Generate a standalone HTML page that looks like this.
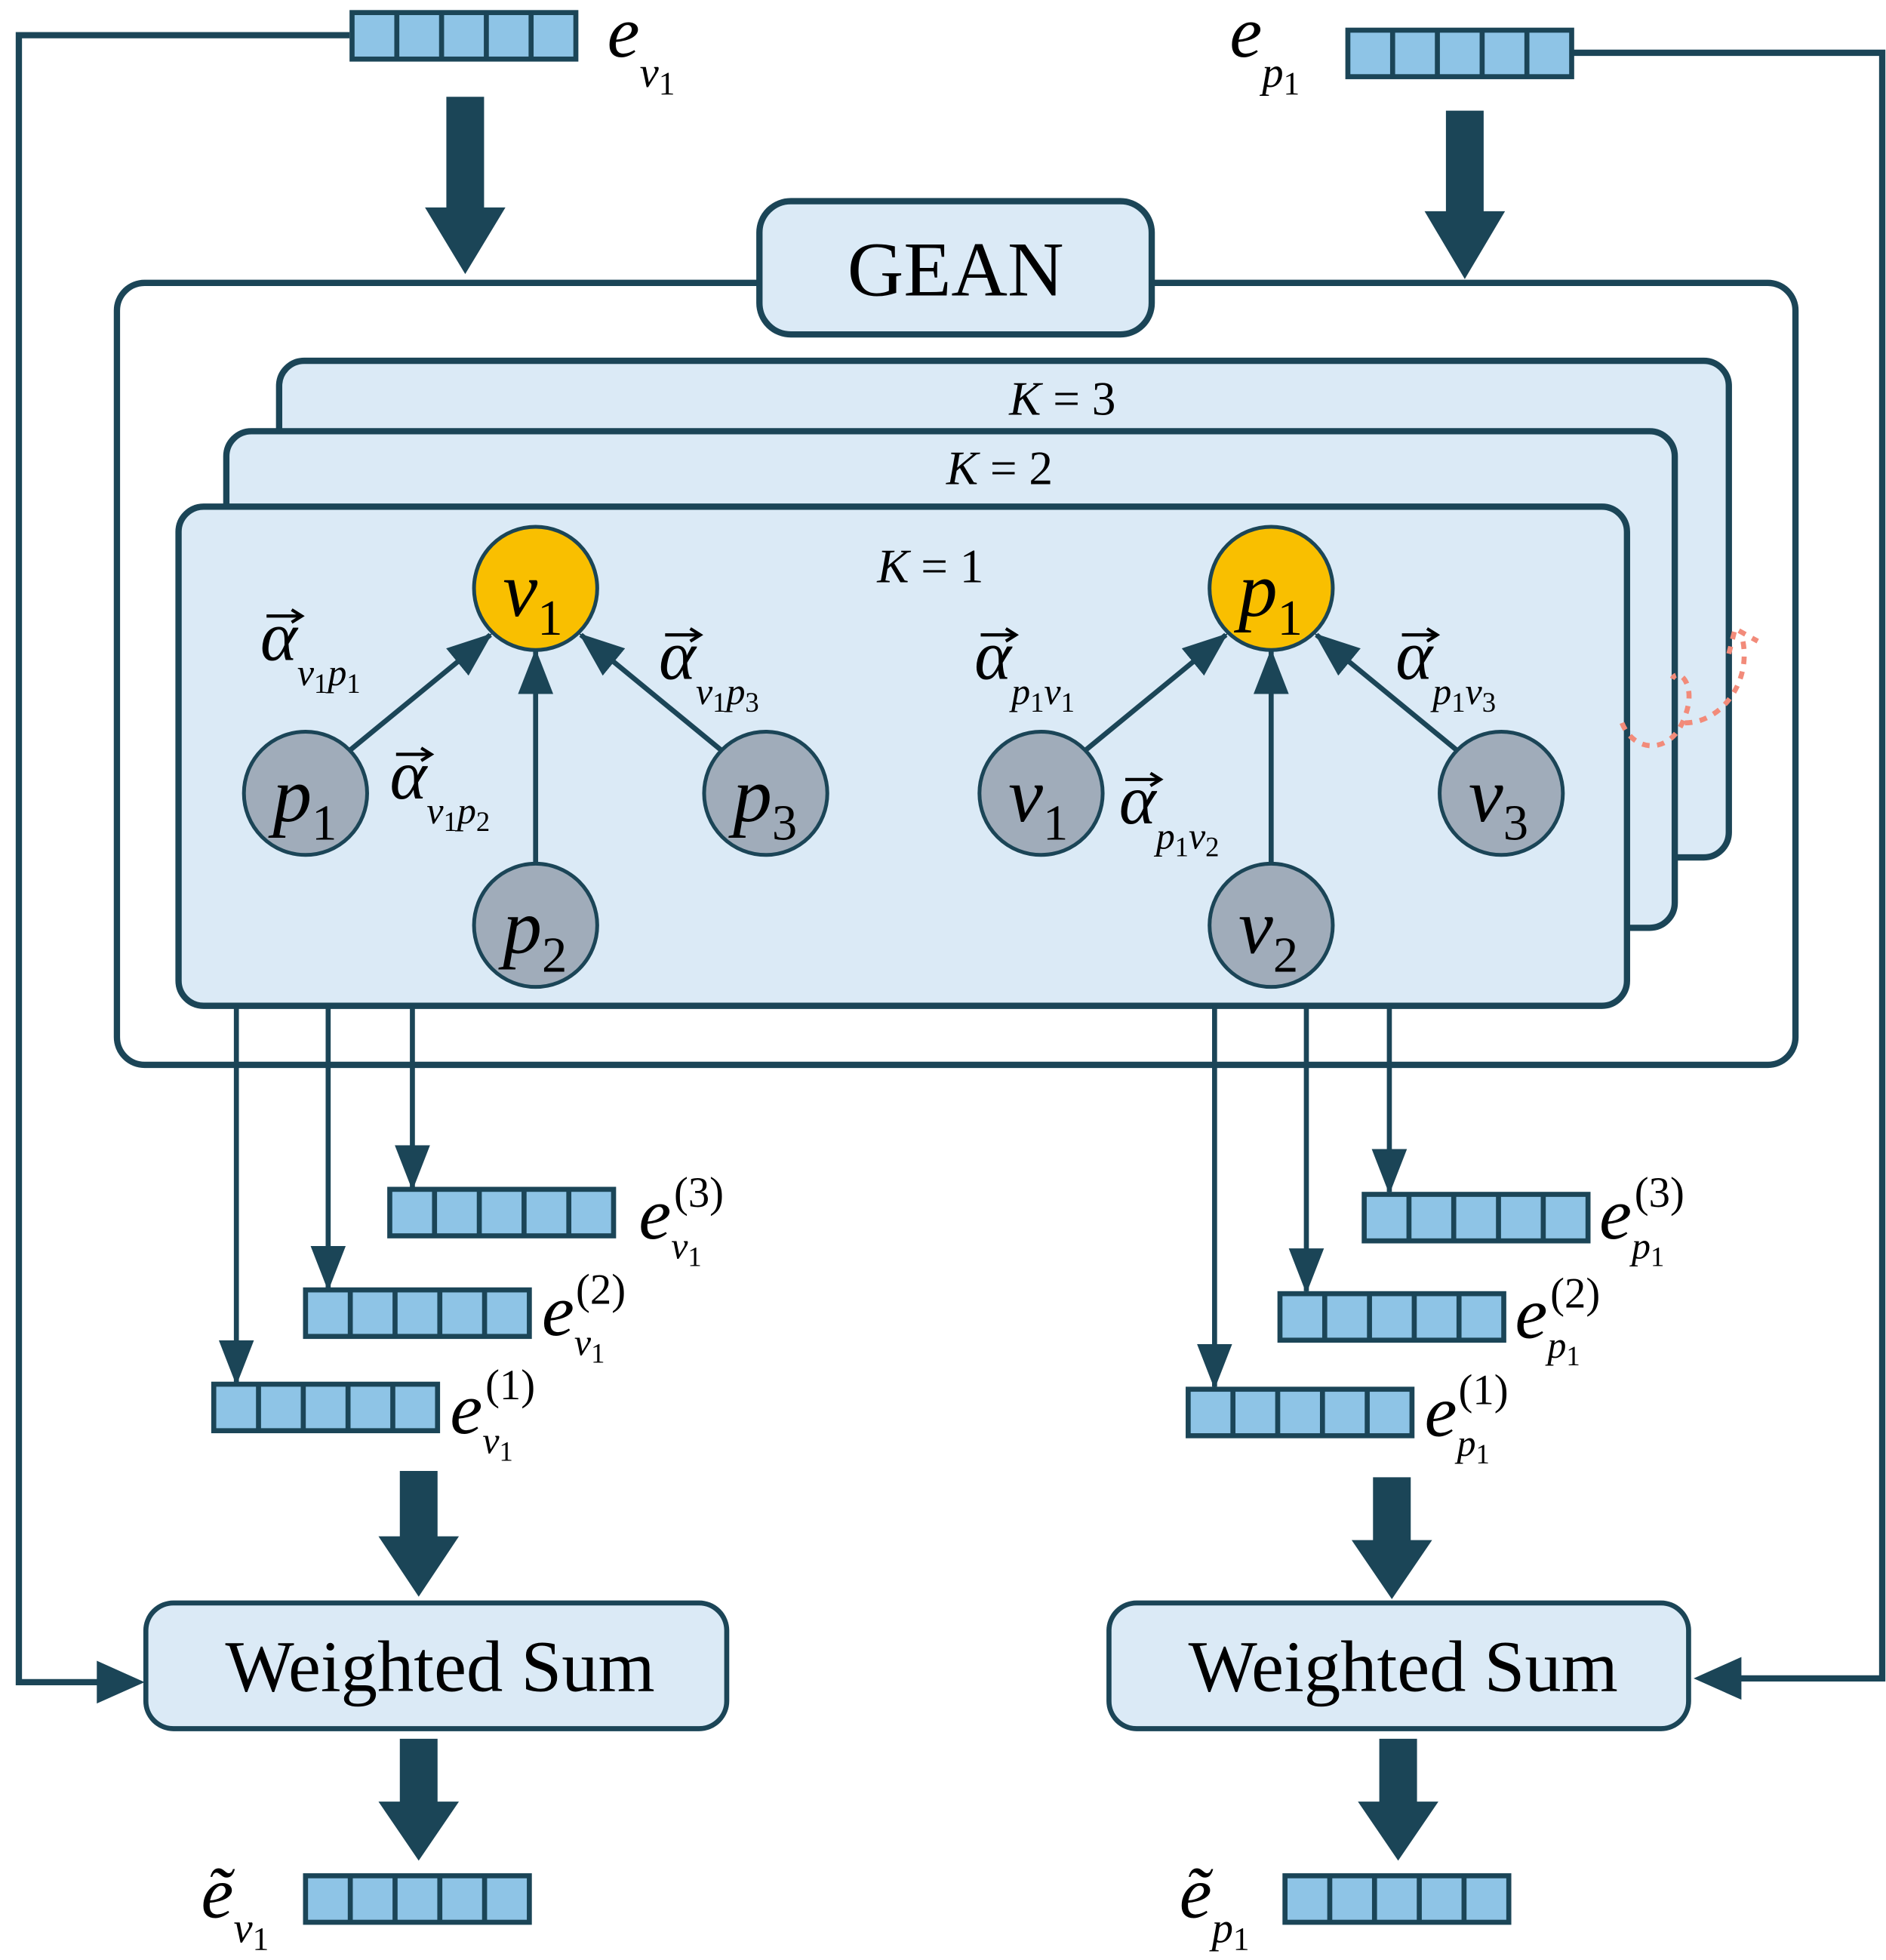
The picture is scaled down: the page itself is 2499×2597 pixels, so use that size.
<!DOCTYPE html>
<html><head><meta charset="utf-8"><style>
html,body{margin:0;padding:0;background:#fff}
svg{display:block}
text{font-family:"Liberation Serif",serif;fill:#000}
.i{font-style:italic}
</style></head><body>
<svg width="2499" height="2597" viewBox="0 0 1500 1559" preserveAspectRatio="none" xmlns="http://www.w3.org/2000/svg">
<defs>
<marker id="ah2" markerWidth="36" markerHeight="36" refX="34" refY="18" orient="auto" markerUnits="userSpaceOnUse" viewBox="0 0 36 36"><path d="M0,4 L36,18 L0,32 z" fill="#1b4557"/></marker>
<g id="vec">
<rect x="0" y="0" width="178" height="37" fill="#8ec4e6" stroke="#1b4557" stroke-width="4"/>
<line x1="35.6" y1="0" x2="35.6" y2="37" stroke="#1b4557" stroke-width="4"/>
<line x1="71.2" y1="0" x2="71.2" y2="37" stroke="#1b4557" stroke-width="4"/>
<line x1="106.8" y1="0" x2="106.8" y2="37" stroke="#1b4557" stroke-width="4"/>
<line x1="142.4" y1="0" x2="142.4" y2="37" stroke="#1b4557" stroke-width="4"/>
</g>
<g id="vecarrow"><line x1="0" y1="0" x2="26" y2="0" stroke="#000" stroke-width="2.5"/><path d="M20,-5 L28,0 L20,5" fill="none" stroke="#000" stroke-width="2.5"/></g>
</defs>
<g fill="none" stroke="#1b4557" stroke-width="5">
<polyline points="278,28 15,28 15,1338 80,1338"/>
<polyline points="1250,42 1497,42 1497,1335 1380,1335"/>
</g>
<path d="M115,1338 L77,1321 L77,1355 z" fill="#1b4557"/>
<path d="M1347,1335 L1385,1318 L1385,1352 z" fill="#1b4557"/>
<g fill="#1b4557">
<path d="M355,77 h30 v88 h17 l-32,53 l-32,-53 h17 z"/>
<path d="M1150,88 h30 v80 h17 l-32,54 l-32,-54 h17 z"/>
<path d="M318,1170 h30 v52 h17 l-32,48 l-32,-48 h17 z"/>
<path d="M1092,1175 h30 v50 h17 l-32,47 l-32,-47 h17 z"/>
<path d="M318,1383 h30 v50 h17 l-32,47 l-32,-47 h17 z"/>
<path d="M1097,1383 h30 v50 h17 l-32,47 l-32,-47 h17 z"/>
</g>
<rect x="93" y="225" width="1335" height="622" rx="22" fill="#fff" stroke="#1b4557" stroke-width="5"/>
<rect x="604" y="160" width="312" height="106" rx="25" fill="#dbeaf6" stroke="#1b4557" stroke-width="5"/>
<text x="760" y="235" font-size="62" text-anchor="middle">GEAN</text>
<rect x="222" y="287" width="1153" height="395" rx="20" fill="#dbeaf6" stroke="#1b4557" stroke-width="5"/>
<rect x="180" y="343" width="1152" height="395" rx="20" fill="#dbeaf6" stroke="#1b4557" stroke-width="5"/>
<rect x="142" y="403" width="1152" height="397" rx="20" fill="#dbeaf6" stroke="#1b4557" stroke-width="5"/>
<text x="845" y="330" font-size="38" text-anchor="middle"><tspan class="i">K</tspan> = 3</text>
<text x="795" y="385" font-size="38" text-anchor="middle"><tspan class="i">K</tspan> = 2</text>
<text x="740" y="463" font-size="38" text-anchor="middle"><tspan class="i">K</tspan> = 1</text>
<path d="M1290,575 C1300,600 1330,600 1340,570 C1350,545 1335,530 1330,540 M1340,575 C1370,575 1395,540 1385,505 M1375,520 l5,-20 l18,10" fill="none" stroke="#f28b7a" stroke-width="4" stroke-dasharray="6,6"/>
<g stroke="#1b4557" stroke-width="4" marker-end="url(#ah2)">
<line x1="278" y1="597" x2="390" y2="505"/>
<line x1="426" y1="687" x2="426" y2="518"/>
<line x1="574" y1="597" x2="462" y2="505"/>
<line x1="863" y1="597" x2="975" y2="505"/>
<line x1="1011" y1="687" x2="1011" y2="518"/>
<line x1="1159" y1="597" x2="1047" y2="505"/>
</g>
<g stroke="#1b4557" stroke-width="3">
<circle cx="426" cy="468" r="49" fill="#f9bf00"/>
<circle cx="1011" cy="468" r="49" fill="#f9bf00"/>
<circle cx="243" cy="631" r="49" fill="#a0acba"/>
<circle cx="426" cy="736" r="49" fill="#a0acba"/>
<circle cx="609" cy="631" r="49" fill="#a0acba"/>
<circle cx="828" cy="631" r="49" fill="#a0acba"/>
<circle cx="1011" cy="736" r="49" fill="#a0acba"/>
<circle cx="1194" cy="631" r="49" fill="#a0acba"/>
</g>
<g font-size="62">
<text x="400" y="490" class="i">v<tspan font-size="40" font-style="normal" dy="15">1</tspan></text>
<text x="985" y="490" class="i">p<tspan font-size="40" font-style="normal" dy="15">1</tspan></text>
<text x="217" y="653" class="i">p<tspan font-size="40" font-style="normal" dy="15">1</tspan></text>
<text x="400" y="758" class="i">p<tspan font-size="40" font-style="normal" dy="15">2</tspan></text>
<text x="583" y="653" class="i">p<tspan font-size="40" font-style="normal" dy="15">3</tspan></text>
<text x="802" y="653" class="i">v<tspan font-size="40" font-style="normal" dy="15">1</tspan></text>
<text x="985" y="758" class="i">v<tspan font-size="40" font-style="normal" dy="15">2</tspan></text>
<text x="1168" y="653" class="i">v<tspan font-size="40" font-style="normal" dy="15">3</tspan></text>
</g>
<g font-size="56">
<text x="207" y="525" class="i">α<tspan font-size="30" dy="20">v</tspan><tspan font-size="22" font-style="normal" dy="6">1</tspan><tspan font-size="30" dy="-6">p</tspan><tspan font-size="22" font-style="normal" dy="6">1</tspan></text>
<use href="#vecarrow" x="212" y="490"/>
<text x="310" y="635" class="i">α<tspan font-size="30" dy="20">v</tspan><tspan font-size="22" font-style="normal" dy="6">1</tspan><tspan font-size="30" dy="-6">p</tspan><tspan font-size="22" font-style="normal" dy="6">2</tspan></text>
<use href="#vecarrow" x="315" y="600"/>
<text x="524" y="540" class="i">α<tspan font-size="30" dy="20">v</tspan><tspan font-size="22" font-style="normal" dy="6">1</tspan><tspan font-size="30" dy="-6">p</tspan><tspan font-size="22" font-style="normal" dy="6">3</tspan></text>
<use href="#vecarrow" x="529" y="505"/>
<text x="775" y="540" class="i">α<tspan font-size="30" dy="20">p</tspan><tspan font-size="22" font-style="normal" dy="6">1</tspan><tspan font-size="30" dy="-6">v</tspan><tspan font-size="22" font-style="normal" dy="6">1</tspan></text>
<use href="#vecarrow" x="780" y="505"/>
<text x="890" y="655" class="i">α<tspan font-size="30" dy="20">p</tspan><tspan font-size="22" font-style="normal" dy="6">1</tspan><tspan font-size="30" dy="-6">v</tspan><tspan font-size="22" font-style="normal" dy="6">2</tspan></text>
<use href="#vecarrow" x="895" y="620"/>
<text x="1110" y="540" class="i">α<tspan font-size="30" dy="20">p</tspan><tspan font-size="22" font-style="normal" dy="6">1</tspan><tspan font-size="30" dy="-6">v</tspan><tspan font-size="22" font-style="normal" dy="6">3</tspan></text>
<use href="#vecarrow" x="1115" y="505"/>
</g>
<g stroke="#1b4557" stroke-width="4" marker-end="url(#ah2)">
<line x1="188" y1="800" x2="188" y2="1100"/>
<line x1="261" y1="800" x2="261" y2="1025"/>
<line x1="328" y1="800" x2="328" y2="945"/>
<line x1="966" y1="800" x2="966" y2="1103"/>
<line x1="1039" y1="800" x2="1039" y2="1027"/>
<line x1="1105" y1="800" x2="1105" y2="948"/>
</g>
<use href="#vec" x="280" y="10"/>
<use href="#vec" x="1072" y="24"/>
<use href="#vec" x="310" y="946"/>
<use href="#vec" x="243" y="1026"/>
<use href="#vec" x="170" y="1101"/>
<use href="#vec" x="1085" y="950"/>
<use href="#vec" x="1018" y="1029"/>
<use href="#vec" x="945" y="1105"/>
<use href="#vec" x="243" y="1492"/>
<use href="#vec" x="1022" y="1492"/>
<g font-size="58">
<text x="483" y="45" class="i">e<tspan font-size="34" dy="24">v</tspan><tspan font-size="26" font-style="normal" dy="6">1</tspan></text>
<text x="978" y="45" class="i">e<tspan font-size="34" dy="24">p</tspan><tspan font-size="26" font-style="normal" dy="6">1</tspan></text>
<text x="508" y="985" class="i">e<tspan font-size="30" dy="16">v</tspan><tspan font-size="22" font-style="normal" dy="6">1</tspan></text>
<text x="536" y="960" font-size="34">(3)</text>
<text x="431" y="1062" class="i">e<tspan font-size="30" dy="16">v</tspan><tspan font-size="22" font-style="normal" dy="6">1</tspan></text>
<text x="458" y="1037" font-size="34">(2)</text>
<text x="358" y="1140" class="i">e<tspan font-size="30" dy="16">v</tspan><tspan font-size="22" font-style="normal" dy="6">1</tspan></text>
<text x="386" y="1113" font-size="34">(1)</text>
<text x="1272" y="985" class="i">e<tspan font-size="30" dy="16">p</tspan><tspan font-size="22" font-style="normal" dy="6">1</tspan></text>
<text x="1300" y="960" font-size="34">(3)</text>
<text x="1205" y="1064" class="i">e<tspan font-size="30" dy="16">p</tspan><tspan font-size="22" font-style="normal" dy="6">1</tspan></text>
<text x="1233" y="1040" font-size="34">(2)</text>
<text x="1133" y="1142" class="i">e<tspan font-size="30" dy="16">p</tspan><tspan font-size="22" font-style="normal" dy="6">1</tspan></text>
<text x="1160" y="1117" font-size="34">(1)</text>
<text x="160" y="1525" class="i">ẽ<tspan font-size="34" dy="20">v</tspan><tspan font-size="26" font-style="normal" dy="6">1</tspan></text>
<text x="938" y="1525" class="i">ẽ<tspan font-size="34" dy="20">p</tspan><tspan font-size="26" font-style="normal" dy="6">1</tspan></text>
</g>
<rect x="116" y="1275" width="462" height="100" rx="22" fill="#dbeaf6" stroke="#1b4557" stroke-width="4"/>
<rect x="882" y="1275" width="461" height="100" rx="22" fill="#dbeaf6" stroke="#1b4557" stroke-width="4"/>
<text x="350" y="1345" font-size="58" text-anchor="middle">Weighted Sum</text>
<text x="1116" y="1345" font-size="58" text-anchor="middle">Weighted Sum</text>
</svg>
</body></html>
